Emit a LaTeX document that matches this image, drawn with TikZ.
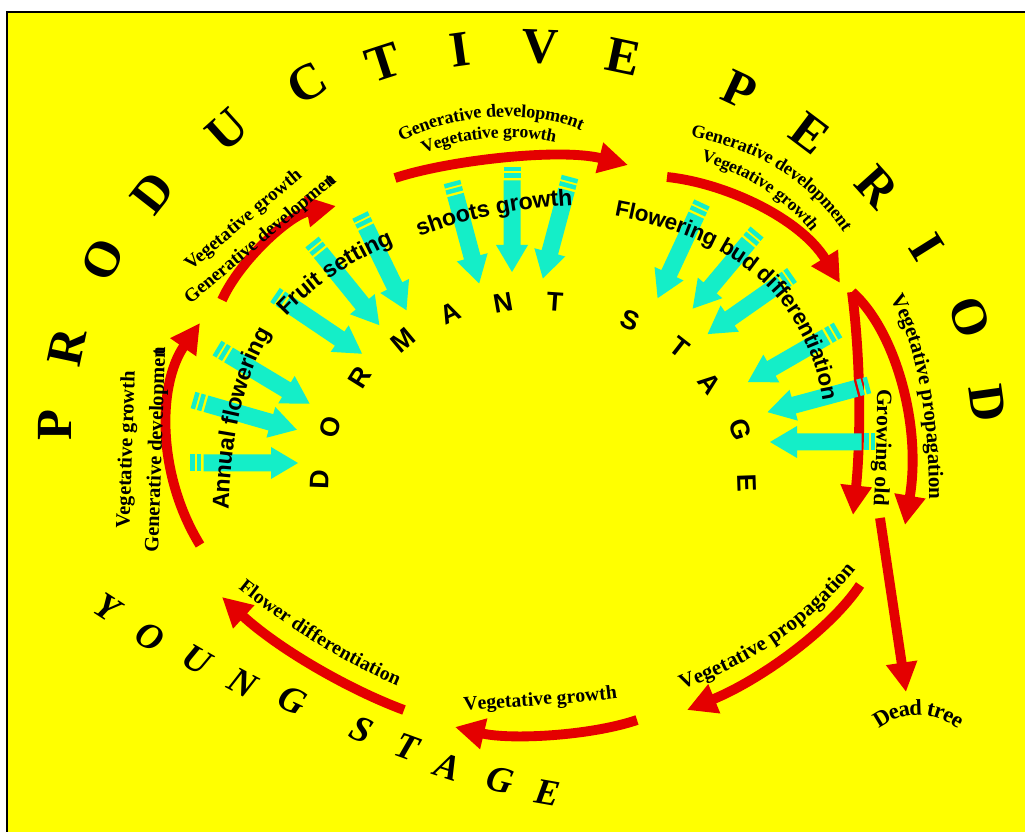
\documentclass[tikz,border=0pt]{standalone}
\usepackage{fontspec}
\setmainfont{Liberation Serif}
\setsansfont{Liberation Sans}
\usetikzlibrary{arrows.meta}
\usetikzlibrary{decorations.text}

\definecolor{wordyellow}{RGB}{255,255,0}
\definecolor{cyclered}{RGB}{228,0,0}
\definecolor{budcyan}{RGB}{20,238,200}

% cyan arrow: tail x, tail y, angle, length
\newcommand{\budarrow}[4]{%
  \begin{scope}[shift={(#1,#2)},rotate=#3]
    \fill[budcyan] (0,-8.5) rectangle (4.5,8.5);
    \fill[budcyan] (6.5,-8.5) rectangle (11,8.5);
    \fill[budcyan] (13.5,-8.5) -- ({#4-27},-8.5) -- ({#4-27},-16) -- (#4,0)
      -- ({#4-27},16) -- ({#4-27},8.5) -- (13.5,8.5) -- cycle;
  \end{scope}}

\begin{document}
\begin{tikzpicture}[x=0.025cm,y=-0.025cm]
\tikzset{lifearrow/.style={draw=cyclered,line width=7pt,-{Triangle[length=21pt,width=21pt]}}}
\tikzset{bigletter/.style={font=\fontsize{36}{36}\selectfont\bfseries,inner sep=0pt}}
\tikzset{stageletter/.style={font=\fontsize{19}{19}\selectfont\sffamily\bfseries,inner sep=0pt}}
\tikzset{youngletter/.style={font=\fontsize{26}{26}\selectfont\bfseries\itshape,inner sep=0pt}}
\tikzset{redlabel/.style={align=center,inner sep=0pt}}
\tikzset{arched/.style 2 args={decorate,decoration={text along path,text align=center,raise=#1,text={#2}}}}

\useasboundingbox (0,0) rectangle (1025,832);
\fill[white] (0,0) rectangle (1025,832);
\fill[wordyellow] (7,12) rectangle (1025,832);
\draw[line width=1.4pt] (7,832) -- (7,12) -- (1025,12);

% the cycle
\draw[lifearrow] (200,545) .. controls (157,475) and (157,385) .. (200,323);
\draw[lifearrow] (222,300) .. controls (240,260) and (290,215) .. (336,206);
\draw[lifearrow] (395,178) .. controls (450,160) and (560,148) .. (628,165);
\draw[lifearrow] (667,177) .. controls (725,183) and (800,218) .. (840,283);
\coordinate (fork) at (852,292);
\draw[lifearrow] (fork) .. controls (862,370) and (860,450) .. (853,515);
\draw[lifearrow] (fork) .. controls (895,330) and (922,425) .. (905,525);
\draw[lifearrow] (880,518) -- (906,692);
\draw[lifearrow] (860,585) .. controls (830,630) and (760,680) .. (687,710);
\draw[lifearrow] (637,720) .. controls (590,736) and (510,740) .. (455,727);
\draw[lifearrow] (404,710) .. controls (350,690) and (280,650) .. (222,597);

% cyan arrows towards the dormant stage
\foreach \tx/\ty/\ang/\len in {190/463/0/108, 193/400/-16/108, 217/348/-31/108,
  275/295/-34/105, 312/242/-51/107, 360/215/-64/106,
  452/182/-75/105, 512/167/-90/105, 570/177/-105/105,
  702/203/-115/105, 757/232/-130/100, 792/275/-145/103,
  838/330/-150/104, 869/385/-165/105, 875/442/-180/105}
  \budarrow{\tx}{\ty}{\ang}{\len};

% big lettering
\foreach \ch/\px/\py/\ang [count=\i] in {P/55/425/90, R/67/347/78, O/103/260/65,
  D/153/193/52, U/227/130/42, C/307/83/30, T/383/63/18, I/460/50/8, V/540/47/-2,
  E/623/57/-12, P/740/90/-25, E/810/133/-37, R/877/187/-48, I/927/247/-58,
  O/970/317/-70, D/987/403/-82}
  \node[bigletter,rotate=\ang] (prod\i) at (\px,\py) {\ch};
\foreach \ch/\px/\py/\ang [count=\i] in {D/320/480/88, O/330/427/75, R/360/377/58,
  M/403/340/40, A/450/313/25, N/503/303/10, T/555/302/-4, S/630/320/-22,
  T/680/347/-38, A/710/383/-52, G/740/430/-72, E/747/483/-88}
  \node[stageletter,rotate=\ang] (dorm\i) at (\px,\py) {\ch};
\foreach \ch/\px/\py/\ang [count=\i] in {Y/107/608/-33, O/150/637/-30, U/197/660/-30,
  N/243/683/-28, G/293/700/-25, S/362/730/-24, T/407/747/-20, A/448/767/-18,
  G/500/780/-14, E/548/793/-10}
  \node[youngletter,rotate=\ang] (young\i) at (\px,\py) {\ch};

% labels of the red arrows
\node[redlabel,rotate=88,font=\bfseries\fontsize{14.5}{21}\selectfont] (leftlabel) at (142,450)
  {Vegetative growth\\Generative developmen\kern-.4em t};
\node[redlabel,rotate=40,font=\bfseries\fontsize{13.5}{18}\selectfont] (upleftlabel) at (252,230)
  {Vegetative growth\\Generative developmen\kern-.4em t};
\path[arched={-4.3pt}{|\bfseries\fontsize{13}{13}\selectfont|Generative development}]
  (378,150) .. controls (440,100) and (560,100) .. (605,138);
\path[arched={-4.2pt}{|\bfseries\fontsize{12.5}{12.5}\selectfont|Vegetative growth}]
  (405,158) .. controls (450,128) and (530,125) .. (575,142);
\path[arched={-4.3pt}{|\bfseries\fontsize{13}{13}\selectfont|Generative development}]
  (668,127) .. controls (742,136) and (816,167) .. (861,250);
\path[arched={-4.2pt}{|\bfseries\fontsize{12.5}{12.5}\selectfont|Vegetative growth}]
  (691,152) .. controls (741,164) and (792,193) .. (823,238);
\path[arched={-5pt}{|\bfseries\fontsize{15.5}{15.5}\selectfont|Growing old}]
  (884,375) .. controls (885,420) and (883,470) .. (880,520);
\path[arched={-5pt}{|\bfseries\fontsize{15}{15}\selectfont|Vegetative propagation}]
  (888,282) .. controls (915,320) and (938,390) .. (936,515);
\path[arched={-5pt}{|\bfseries\fontsize{16}{16}\selectfont|Dead tree}]
  (865,732) .. controls (895,700) and (940,700) .. (972,732);
\path[arched={-5pt}{|\bfseries\fontsize{15}{15}\selectfont|Vegetative propagation}]
  (668,688) .. controls (740,660) and (800,630) .. (858,555);
\path[arched={-4.6pt}{|\bfseries\fontsize{14}{14}\selectfont|Vegetative growth}]
  (450,706) .. controls (500,700) and (580,698) .. (630,690);
\path[arched={-4.6pt}{|\bfseries\fontsize{14}{14}\selectfont|Flower differentiation}]
  (232,575) .. controls (280,615) and (340,655) .. (412,685);

% labels of the cyan arrows
\path[arched={-6pt}{|\sffamily\bfseries\fontsize{16.5}{16.5}\selectfont|Annual flowering}]
  (220,525) .. controls (220,440) and (235,370) .. (272,315);
\path[arched={-6pt}{|\sffamily\bfseries\fontsize{16.5}{16.5}\selectfont|Fruit setting}]
  (270,322) .. controls (300,285) and (350,250) .. (405,230);
\path[arched={-6pt}{|\sffamily\bfseries\fontsize{16.5}{16.5}\selectfont|shoots growth}]
  (400,236) .. controls (450,212) and (520,198) .. (590,196);
\path[arched={-6pt}{|\sffamily\bfseries\fontsize{16}{16}\selectfont|Flowering bud differentiation}]
  (600,205) .. controls (730,225) and (820,285) .. (833,415);
\end{tikzpicture}
\end{document}
